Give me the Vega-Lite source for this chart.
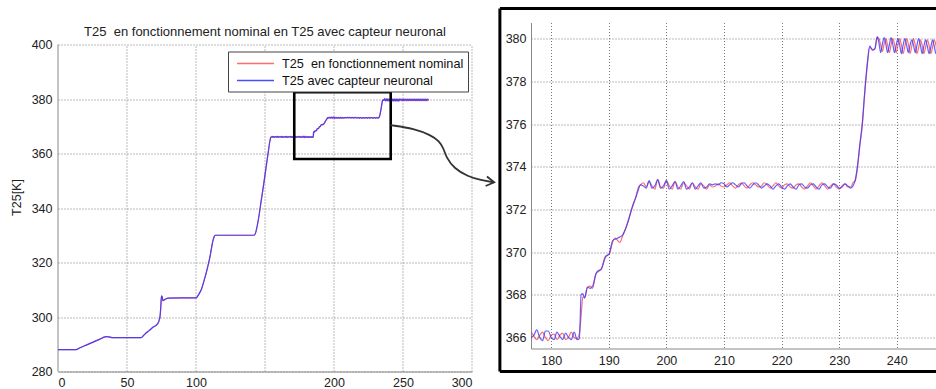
{
"$schema": "https://vega.github.io/schema/vega-lite/v6.json",
"padding": {"left": 10, "top": 6.5, "right": 0, "bottom": 0},
"autosize": {"type": "pad"},
"background": "white",
"spacing": 0,
"config": {
  "font": "Liberation Sans",
  "view": {"stroke": null},
  "axis": {"grid": true, "gridColor": "#777", "gridDash": [1, 2], "gridWidth": 1, "domainColor": "#888", "ticks": false, "labelFontSize": 12.5, "labelColor": "#222", "labelPadding": 6, "titleFontWeight": "normal", "titleFontSize": 12.5, "titleColor": "#222"}
},
"resolve": {"scale": {"x": "independent", "y": "independent", "color": "independent", "opacity": "independent"}, "legend": {"color": "independent"}},
"datasets": {
  "serie": [
    {"t":0,"a":288.0,"b":288.0},{"t":13,"a":288.0,"b":288.0},{"t":16,"a":288.7,"b":288.7},{"t":20,"a":289.6,"b":289.6},
    {"t":25,"a":290.7,"b":290.7},{"t":30,"a":291.8,"b":291.8},{"t":34,"a":292.7,"b":292.7},{"t":35.5,"a":292.8,"b":292.8},
    {"t":40,"a":292.4,"b":292.4},{"t":50,"a":292.4,"b":292.4},{"t":60,"a":292.4,"b":292.4},{"t":62,"a":293.2,"b":293.2},
    {"t":64,"a":294.2,"b":294.2},{"t":66,"a":295.0,"b":295.0},{"t":69,"a":296.3,"b":296.3},{"t":72,"a":297.4,"b":297.4},
    {"t":73,"a":298.3,"b":298.3},{"t":74,"a":300.5,"b":300.5},{"t":74.5,"a":303.8,"b":303.8},{"t":75,"a":307.8,"b":307.8},
    {"t":75.5,"a":307.4,"b":307.4},{"t":76,"a":306.0,"b":306.0},{"t":78,"a":306.6,"b":306.6},{"t":80,"a":306.9,"b":306.9},
    {"t":90,"a":307.0,"b":307.0},{"t":100,"a":307.0,"b":307.0},{"t":102,"a":308.3,"b":308.3},{"t":104,"a":310.3,"b":310.3},
    {"t":106,"a":313.6,"b":313.6},{"t":108,"a":317.4,"b":317.4},{"t":110,"a":321.8,"b":321.8},{"t":111,"a":324.6,"b":324.6},
    {"t":112,"a":327.4,"b":327.4},{"t":113,"a":329.3,"b":329.3},{"t":114,"a":330.0,"b":330.0},{"t":120,"a":330.0,"b":330.0},
    {"t":130,"a":330.0,"b":330.0},{"t":142,"a":330.0,"b":330.0},{"t":143,"a":330.6,"b":330.6},{"t":144.5,"a":333.8,"b":333.8},
    {"t":145.5,"a":336.7,"b":336.7},{"t":147.2,"a":342.5,"b":342.5},{"t":148.4,"a":346.5,"b":346.5},{"t":150.8,"a":355.0,"b":355.0},
    {"t":152.5,"a":361.0,"b":361.0},{"t":153.5,"a":364.5,"b":364.5},{"t":154.3,"a":366.0,"b":366.0},
    {"t":155.1,"a":366.3,"b":366.0},{"t":155.9,"a":365.9,"b":366.3},{"t":156.7,"a":366.2,"b":365.9},{"t":157.5,"a":366.0,"b":366.2},
    {"t":158.3,"a":366.3,"b":366.0},{"t":159.1,"a":365.9,"b":366.3},{"t":159.9,"a":366.2,"b":365.9},{"t":160.7,"a":366.0,"b":366.25},
    {"t":161.5,"a":366.3,"b":366.0},{"t":162.3,"a":365.9,"b":366.3},{"t":163.1,"a":366.2,"b":365.9},{"t":163.9,"a":366.0,"b":366.2},
    {"t":164.7,"a":366.3,"b":366.0},{"t":165.5,"a":365.9,"b":366.3},{"t":166.3,"a":366.2,"b":365.9},{"t":167.1,"a":366.0,"b":366.2},
    {"t":167.9,"a":366.3,"b":366.0},{"t":168.7,"a":365.9,"b":366.3},{"t":169.5,"a":366.2,"b":365.9},{"t":170.3,"a":366.0,"b":366.2},
    {"t":171.1,"a":366.3,"b":366.0},{"t":171.9,"a":365.9,"b":366.3},{"t":172.7,"a":366.2,"b":365.9},{"t":173.5,"a":366.0,"b":366.2},
    {"t":174.3,"a":366.3,"b":366.0},{"t":175.1,"a":365.9,"b":366.3},{"t":175.9,"a":366.2,"b":365.95},
    {"t":176.5,"a":366.25,"b":366.0},{"t":177.0,"a":366.05,"b":366.1},{"t":177.5,"a":365.9,"b":366.35},{"t":178.0,"a":366.1,"b":366.0},
    {"t":178.5,"a":366.25,"b":365.85},{"t":179.0,"a":366.0,"b":366.3},{"t":179.5,"a":365.85,"b":366.3},{"t":180.0,"a":366.1,"b":366.0},
    {"t":180.5,"a":366.15,"b":365.9},{"t":181.0,"a":365.9,"b":366.25},{"t":181.5,"a":366.1,"b":366.05},{"t":182.0,"a":366.2,"b":365.9},
    {"t":182.5,"a":365.9,"b":366.2},{"t":183.0,"a":366.0,"b":366.0},{"t":183.5,"a":366.25,"b":365.9},{"t":184.0,"a":366.0,"b":366.25},
    {"t":184.5,"a":365.95,"b":365.9},{"t":184.9,"a":366.2,"b":365.95},{"t":185.2,"a":367.0,"b":368.0},{"t":185.5,"a":367.9,"b":368.05},
    {"t":185.8,"a":367.85,"b":367.85},{"t":186.3,"a":368.35,"b":368.35},{"t":186.8,"a":368.4,"b":368.3},{"t":187.2,"a":368.3,"b":368.4},
    {"t":187.8,"a":369.0,"b":369.0},{"t":188.3,"a":369.1,"b":369.15},{"t":188.7,"a":369.2,"b":369.2},{"t":189.4,"a":369.8,"b":369.75},
    {"t":190.1,"a":369.9,"b":369.95},{"t":190.7,"a":370.5,"b":370.55},{"t":191.1,"a":370.65,"b":370.6},{"t":191.5,"a":370.55,"b":370.65},
    {"t":191.9,"a":370.45,"b":370.7},{"t":192.4,"a":370.75,"b":370.8},{"t":193.0,"a":371.15,"b":371.15},{"t":193.5,"a":371.6,"b":371.55},
    {"t":193.9,"a":371.95,"b":371.95},{"t":194.3,"a":372.25,"b":372.3},{"t":194.7,"a":372.6,"b":372.55},{"t":195.1,"a":373.0,"b":372.9},
    {"t":195.5,"a":373.15,"b":373.15},
    {"t":196.0,"a":373.25,"b":373.1},{"t":196.5,"a":373.05,"b":373.0},{"t":197.0,"a":373.3,"b":373.35},{"t":197.5,"a":373.1,"b":373.0},
    {"t":198.0,"a":372.95,"b":373.1},{"t":198.5,"a":373.4,"b":373.4},{"t":199.0,"a":373.05,"b":373.0},{"t":199.5,"a":373.0,"b":373.1},
    {"t":200.0,"a":373.35,"b":373.35},{"t":200.5,"a":373.1,"b":372.95},{"t":201.0,"a":372.95,"b":373.1},{"t":201.5,"a":373.3,"b":373.3},
    {"t":202.0,"a":373.05,"b":372.95},{"t":202.5,"a":372.95,"b":373.1},{"t":203.0,"a":373.25,"b":373.3},{"t":203.5,"a":373.1,"b":372.95},
    {"t":204.0,"a":372.95,"b":373.05},{"t":204.5,"a":373.25,"b":373.25},{"t":205.0,"a":373.05,"b":372.95},{"t":205.5,"a":372.95,"b":373.1},
    {"t":206.0,"a":373.2,"b":373.25},{"t":206.5,"a":373.1,"b":373.0},{"t":207.0,"a":372.95,"b":373.05},{"t":207.5,"a":373.15,"b":373.2},
    {"t":208.0,"a":373.05,"b":373.15},{"t":208.5,"a":373.1,"b":373.2},{"t":209.0,"a":373.2,"b":373.15},{"t":209.5,"a":373.1,"b":373.25},
    {"t":210.0,"a":373.05,"b":373.2},{"t":210.5,"a":373.15,"b":373.05},{"t":211.0,"a":373.25,"b":373.15},{"t":211.5,"a":373.1,"b":373.25},
    {"t":212.0,"a":373.0,"b":373.15},{"t":212.5,"a":373.15,"b":373.05},{"t":213.0,"a":373.25,"b":373.2},{"t":213.5,"a":373.1,"b":373.25},
    {"t":214.0,"a":373.0,"b":373.1},{"t":214.5,"a":373.15,"b":373.0},{"t":215.0,"a":373.25,"b":373.15},{"t":215.5,"a":373.15,"b":373.25},
    {"t":216.0,"a":373.05,"b":373.15},{"t":216.5,"a":373.1,"b":373.0},{"t":217.0,"a":373.25,"b":373.1},{"t":217.5,"a":373.15,"b":373.2},
    {"t":218.0,"a":373.0,"b":373.1},{"t":218.5,"a":373.1,"b":372.95},{"t":219.0,"a":373.25,"b":373.1},{"t":219.5,"a":373.1,"b":373.2},
    {"t":220.0,"a":373.0,"b":373.05},{"t":220.5,"a":373.15,"b":372.95},{"t":221.0,"a":373.2,"b":373.1},{"t":221.5,"a":373.05,"b":373.2},
    {"t":222.0,"a":373.0,"b":373.05},{"t":222.5,"a":373.15,"b":372.95},{"t":223.0,"a":373.2,"b":373.15},{"t":223.5,"a":373.05,"b":373.2},
    {"t":224.0,"a":372.95,"b":373.05},{"t":224.5,"a":373.1,"b":373.0},{"t":225.0,"a":373.25,"b":373.15},{"t":225.5,"a":373.1,"b":373.2},
    {"t":226.0,"a":372.95,"b":373.05},{"t":226.5,"a":373.1,"b":372.95},{"t":227.0,"a":373.25,"b":373.15},{"t":227.5,"a":373.1,"b":373.2},
    {"t":228.0,"a":372.95,"b":373.05},{"t":228.5,"a":373.1,"b":373.0},{"t":229.0,"a":373.2,"b":373.2},{"t":229.5,"a":373.05,"b":373.15},
    {"t":230.0,"a":372.95,"b":373.0},{"t":230.5,"a":373.1,"b":373.05},{"t":231.0,"a":373.2,"b":373.2},{"t":231.5,"a":373.05,"b":373.1},
    {"t":232.0,"a":373.05,"b":373.0},{"t":232.4,"a":373.25,"b":373.1},{"t":232.8,"a":373.35,"b":373.4},{"t":233.2,"a":374.0,"b":374.1},
    {"t":233.6,"a":375.0,"b":375.1},{"t":234.0,"a":375.9,"b":376.0},{"t":234.4,"a":377.3,"b":377.4},{"t":234.9,"a":378.8,"b":378.9},
    {"t":235.3,"a":379.6,"b":379.65},{"t":235.8,"a":379.5,"b":379.45},{"t":236.2,"a":379.5,"b":379.55},{"t":236.6,"a":380.05,"b":380.1},
    {"t":236.9,"a":380.0,"b":379.8},{"t":237.2,"a":379.7,"b":379.35},{"t":237.5,"a":379.4,"b":379.75},{"t":237.8,"a":379.75,"b":380.05},
    {"t":238.1,"a":380.0,"b":379.75},{"t":238.4,"a":379.7,"b":379.35},{"t":238.7,"a":379.35,"b":379.7},{"t":239.0,"a":379.7,"b":380.05},
    {"t":239.3,"a":380.0,"b":379.75},{"t":239.6,"a":379.75,"b":379.35},{"t":239.9,"a":379.35,"b":379.7},{"t":240.2,"a":379.7,"b":380.0},
    {"t":240.5,"a":380.0,"b":379.7},{"t":240.8,"a":379.7,"b":379.3},{"t":241.1,"a":379.3,"b":379.7},{"t":241.4,"a":379.65,"b":380.0},
    {"t":241.7,"a":380.0,"b":379.7},{"t":242.0,"a":379.75,"b":379.35},{"t":242.3,"a":379.3,"b":379.7},{"t":242.6,"a":379.65,"b":379.95},
    {"t":242.9,"a":380.0,"b":379.7},{"t":243.2,"a":379.7,"b":379.35},{"t":243.5,"a":379.3,"b":379.7},{"t":243.8,"a":379.6,"b":380.0},
    {"t":244.1,"a":379.95,"b":379.7},{"t":244.4,"a":379.7,"b":379.3},{"t":244.7,"a":379.3,"b":379.65},{"t":245.0,"a":379.6,"b":379.95},
    {"t":245.3,"a":379.95,"b":379.65},{"t":245.6,"a":379.7,"b":379.3},{"t":245.9,"a":379.3,"b":379.6},{"t":246.2,"a":379.6,"b":379.95},
    {"t":246.5,"a":379.95,"b":379.65},{"t":246.8,"a":379.7,"b":379.3},{"t":247.1,"a":379.3,"b":379.6},{"t":247.4,"a":379.6,"b":379.95},
    {"t":247.7,"a":379.95,"b":379.65},
    {"t":248.5,"a":379.4,"b":380.0},{"t":249.3,"a":380.0,"b":379.4},{"t":250.1,"a":379.4,"b":379.95},{"t":250.9,"a":379.95,"b":379.4},
    {"t":251.7,"a":379.4,"b":380.0},{"t":252.5,"a":380.0,"b":379.4},{"t":253.3,"a":379.4,"b":379.95},{"t":254.1,"a":379.95,"b":379.4},
    {"t":254.9,"a":379.4,"b":380.0},{"t":255.7,"a":380.0,"b":379.4},{"t":256.5,"a":379.4,"b":379.95},{"t":257.3,"a":379.95,"b":379.4},
    {"t":258.1,"a":379.4,"b":380.0},{"t":258.9,"a":380.0,"b":379.4},{"t":259.7,"a":379.4,"b":379.95},{"t":260.5,"a":379.95,"b":379.4},
    {"t":261.3,"a":379.4,"b":380.0},{"t":262.1,"a":380.0,"b":379.4},{"t":262.9,"a":379.4,"b":379.95},{"t":263.7,"a":379.95,"b":379.4},
    {"t":264.5,"a":379.4,"b":380.0},{"t":265.3,"a":380.0,"b":379.4},{"t":266.1,"a":379.4,"b":379.95},{"t":266.9,"a":379.95,"b":379.4},
    {"t":267.7,"a":379.4,"b":380.0},{"t":268.5,"a":379.8,"b":379.6}
  ],
  "vgrid": [{"x": 50}, {"x": 100}, {"x": 150}, {"x": 200}, {"x": 250}, {"x": 300}],
  "zoom": [{"x1": 171.2, "x2": 241.1, "y1": 382.5, "y2": 358.0}],
  "arrow": [
    {"t": 241.1, "v": 370.4}, {"t": 258.2, "v": 369.15}, {"t": 270.3, "v": 366.69}, {"t": 276.3, "v": 364.59},
    {"t": 279.5, "v": 361.8}, {"t": 281.2, "v": 358.71}, {"t": 287.2, "v": 354.45}, {"t": 296.9, "v": 351.63},
    {"t": 306.5, "v": 350.16}, {"t": 316.1, "v": 349.42}
  ],
  "tip": [{"t": 316.1, "v": 349.42}],
  "frame": [
    {"x1": 171.1, "x2": 247.5, "y1": 381.42, "y2": 381.42},
    {"x1": 171.1, "x2": 247.5, "y1": 364.4, "y2": 364.4},
    {"x1": 171.1, "x2": 171.1, "y1": 364.4, "y2": 381.42}
  ]
},
"hconcat": [
  {
    "width": 414,
    "height": 349,
    "title": {"text": "T25\u00a0 en fonctionnement nominal en T25 avec capteur neuronal", "fontSize": 13, "fontWeight": "normal", "color": "#222", "offset": -16},
    "layer": [
      {
        "data": {"name": "vgrid"},
        "mark": {"type": "rule", "color": "#777", "strokeDash": [1, 2], "strokeWidth": 1},
        "encoding": {
          "x": {"field": "x", "type": "quantitative", "scale": {"domain": [0, 300], "nice": false, "zero": false}},
          "y": {"datum": 280, "type": "quantitative", "scale": {"domain": [280, 408.08], "nice": false, "zero": false}},
          "y2": {"datum": 400}
        }
      },
      {
        "data": {"values": [{"x": 0}]},
        "mark": {"type": "rule", "color": "#888", "strokeWidth": 1},
        "encoding": {
          "x": {"field": "x", "type": "quantitative"},
          "y": {"datum": 280, "type": "quantitative"},
          "y2": {"datum": 400}
        }
      },
      {
        "data": {"name": "serie"},
        "transform": [{"fold": ["a", "b"], "as": ["s", "v"]}],
        "mark": {"type": "line", "strokeWidth": 1.2, "interpolate": "monotone"},
        "encoding": {
          "x": {"field": "t", "type": "quantitative", "scale": {"domain": [0, 300], "nice": false, "zero": false},
                "axis": {"values": [0, 50, 100, 150, 200, 250, 300], "title": null, "grid": false, "labelPadding": 5, "labelExpr": "datum.value == 150 ? '' : datum.label"}},
          "y": {"field": "v", "type": "quantitative", "scale": {"domain": [280, 408.08], "nice": false, "zero": false},
                "axis": {"values": [280, 300, 320, 340, 360, 380, 400], "title": "T25[K]", "titlePadding": 8, "domain": false}},
          "opacity": {"field": "s", "type": "nominal", "scale": {"domain": ["a", "b"], "range": [0.7, 0.9]}, "legend": null},
          "color": {"field": "s", "type": "nominal", "scale": {"domain": ["a", "b"], "range": ["#ff3030", "#3838ff"]},
                "legend": {"orient": "none", "legendX": 170, "legendY": 29, "title": null, "fillColor": "white", "strokeColor": "#444", "padding": 4, "rowPadding": 2,
                           "symbolType": "M-0.43,0L4.86,0", "symbolSize": 196, "symbolStrokeWidth": 1.3, "symbolOpacity": 0.8, "labelFontSize": 12.7, "labelColor": "#111", "labelOffset": 34, "labelLimit": 400,
                           "labelExpr": "datum.value == 'a' ? 'T25\u00a0 en fonctionnement nominal' : 'T25 avec capteur neuronal'"}}
        }
      },
      {
        "data": {"name": "zoom"},
        "mark": {"type": "rect", "filled": false, "stroke": "black", "strokeWidth": 2.6},
        "encoding": {
          "x": {"field": "x1", "type": "quantitative"},
          "x2": {"field": "x2"},
          "y": {"field": "y1", "type": "quantitative"},
          "y2": {"field": "y2"}
        }
      },
      {
        "data": {"name": "arrow"},
        "mark": {"type": "line", "color": "#333", "strokeWidth": 1.8, "interpolate": "basis"},
        "encoding": {
          "x": {"field": "t", "type": "quantitative"},
          "y": {"field": "v", "type": "quantitative"}
        }
      },
      {
        "data": {"name": "tip"},
        "mark": {"type": "point", "shape": "M-1,-0.6L0,0L-1,0.6", "filled": false, "color": "#333", "strokeWidth": 1.8, "size": 256, "angle": 8, "opacity": 1},
        "encoding": {
          "x": {"field": "t", "type": "quantitative"},
          "y": {"field": "v", "type": "quantitative"}
        }
      }
    ]
  },
  {
    "width": 409,
    "height": 326,
    "layer": [
      {
        "data": {"name": "serie"},
        "transform": [{"filter": "datum.t >= 175 && datum.t <= 249"}, {"fold": ["a", "b"], "as": ["s", "v"]}],
        "mark": {"type": "line", "strokeWidth": 1.2, "clip": true, "interpolate": "monotone"},
        "encoding": {
          "x": {"field": "t", "type": "quantitative", "scale": {"domain": [176.5, 247.5], "nice": false, "zero": false},
                "axis": {"values": [180, 190, 200, 210, 220, 230, 240], "title": null}},
          "y": {"field": "v", "type": "quantitative", "scale": {"domain": [365.48, 380.76], "nice": false, "zero": false},
                "axis": {"values": [366, 368, 370, 372, 374, 376, 378, 380], "title": null, "labelPadding": 5}},
          "opacity": {"field": "s", "type": "nominal", "scale": {"domain": ["a", "b"], "range": [0.7, 0.8]}, "legend": null},
          "color": {"field": "s", "type": "nominal", "scale": {"domain": ["a", "b"], "range": ["#ff3030", "#3838ff"]}, "legend": null}
        }
      },
      {
        "data": {"name": "frame"},
        "mark": {"type": "rule", "color": "black", "strokeWidth": 3},
        "encoding": {
          "x": {"field": "x1", "type": "quantitative", "scale": {"domain": [176.5, 247.5], "nice": false, "zero": false}},
          "x2": {"field": "x2"},
          "y": {"field": "y1", "type": "quantitative", "scale": {"domain": [365.48, 380.76], "nice": false, "zero": false}},
          "y2": {"field": "y2"}
        }
      }
    ]
  }
]
}
